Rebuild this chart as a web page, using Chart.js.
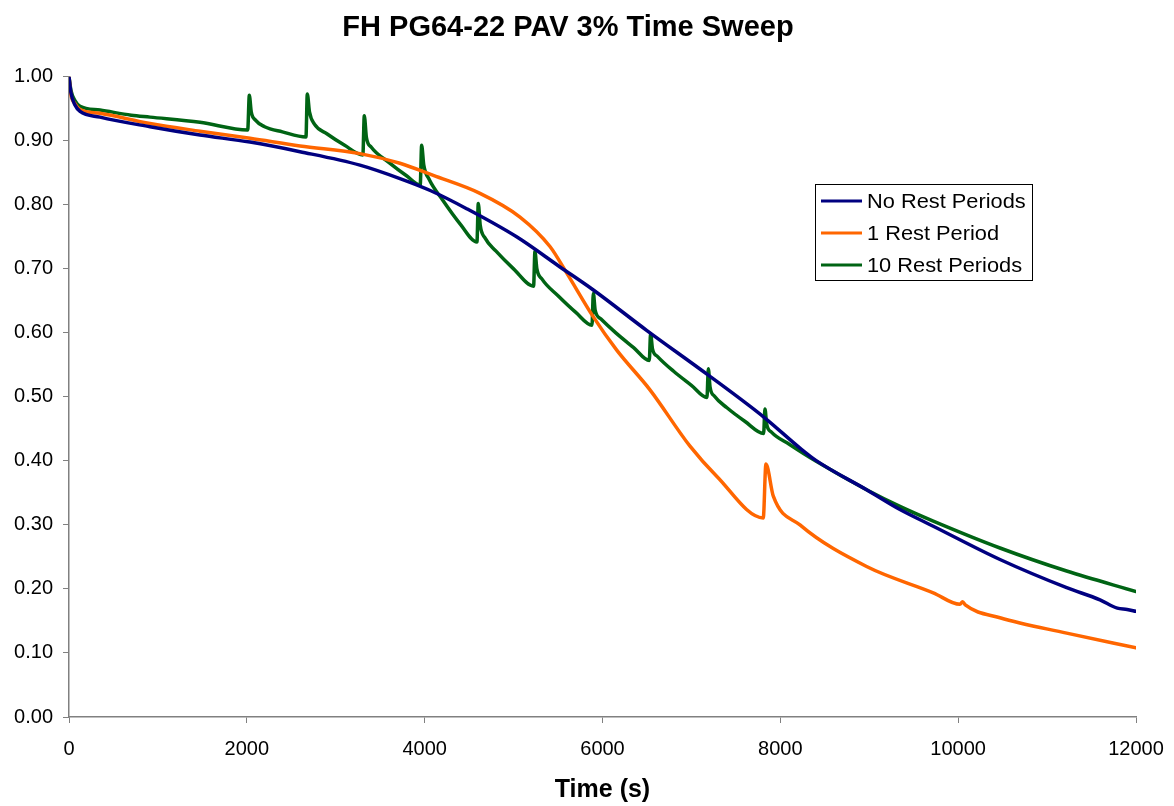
<!DOCTYPE html>
<html>
<head>
<meta charset="utf-8">
<title>FH PG64-22 PAV 3% Time Sweep</title>
<script src="https://cdn.jsdelivr.net/npm/chart.js@4.4.1/dist/chart.umd.min.js"></script>
<style>
  html, body { margin: 0; padding: 0; background: #fff; }
  #wrap { width: 1174px; height: 806px; }
</style>
</head>
<body>
<div id="wrap"><canvas id="sweepChart" width="1174" height="806"></canvas></div>
<script>
// values
const seriesLabels = ['No Rest Periods', '1 Rest Period', '10 Rest Periods'];
const seriesColors = ['#000080', '#FF6600', '#006414'];

const noRestTime = [0, 22, 67, 124, 349, 911, 1473, 2036, 2598, 3272, 3722, 4069, 4472, 5034, 5522, 5897, 6496, 7190, 7827, 8221, 8408, 8970, 9345, 9720, 10470, 11220, 11595, 11790, 11900, 12000];
const noRestValue = [1.0, 0.975, 0.956, 0.946, 0.937, 0.922, 0.909, 0.898, 0.883, 0.862, 0.841, 0.822, 0.794, 0.750, 0.703, 0.667, 0.604, 0.534, 0.467, 0.420, 0.400, 0.355, 0.324, 0.298, 0.246, 0.202, 0.183, 0.170, 0.168, 0.165];

const oneRestTime = [0, 22, 67, 124, 349, 911, 1473, 2036, 2598, 3272, 3722, 4097, 4622, 5072, 5409, 5600, 5897, 6160, 6534, 6984, 7284, 7808, 7838, 7921, 8221, 8970, 9720, 10020, 10050, 10080, 10470, 11220, 12000];
const oneRestValue = [1.0, 0.972, 0.958, 0.949, 0.943, 0.927, 0.915, 0.904, 0.892, 0.880, 0.865, 0.846, 0.818, 0.781, 0.735, 0.693, 0.625, 0.573, 0.511, 0.423, 0.376, 0.311, 0.395, 0.345, 0.300, 0.235, 0.194, 0.176, 0.180, 0.175, 0.155, 0.131, 0.108];

const tenRestTime = [0, 22, 67, 124, 349, 700, 911, 1473, 2010,
  2028, 2050, 2100, 2200, 2400, 2665,
  2680, 2705, 2760, 2900, 3100, 3305,
  3321, 3345, 3400, 3600, 3800, 3950,
  3966, 3990, 4050, 4200, 4400, 4588,
  4603, 4625, 4680, 4800, 5000, 5225,
  5240, 5262, 5320, 5500, 5700, 5882,
  5897, 5918, 5980, 6150, 6350, 6526,
  6541, 6562, 6620, 6800, 7000, 7175,
  7190, 7210, 7260, 7400, 7600, 7812,
  7827, 7847, 7900, 8100, 8408, 8970, 9345, 9720, 10470, 11220, 12000];
const tenRestValue = [1.0, 0.979, 0.963, 0.954, 0.948, 0.940, 0.937, 0.929, 0.917,
  0.971, 0.945, 0.932, 0.922, 0.914, 0.906,
  0.973, 0.945, 0.926, 0.911, 0.893, 0.878,
  0.939, 0.905, 0.890, 0.866, 0.845, 0.831,
  0.893, 0.862, 0.840, 0.808, 0.770, 0.742,
  0.802, 0.768, 0.748, 0.728, 0.700, 0.673,
  0.727, 0.700, 0.684, 0.658, 0.632, 0.612,
  0.662, 0.635, 0.622, 0.600, 0.577, 0.557,
  0.599, 0.575, 0.563, 0.540, 0.518, 0.499,
  0.544, 0.515, 0.501, 0.483, 0.462, 0.443,
  0.481, 0.457, 0.445, 0.426, 0.399, 0.355, 0.329, 0.306, 0.264, 0.228, 0.196];

const xTicks = [0, 2000, 4000, 6000, 8000, 10000, 12000];

function toPoints(xs, ys) {
  return xs.map((x, i) => ({ x: x, y: ys[i] }));
}

const FONT = "'Liberation Sans', Arial, sans-serif";

// legend box drawn inside the plot, like the original
const boxLegend = {
  id: 'boxLegend',
  afterDraw(chart) {
    const ctx = chart.ctx;
    const left = 815, top = 184, width = 217, height = 96;
    ctx.save();
    ctx.fillStyle = '#fff';
    ctx.fillRect(left, top, width, height);
    ctx.strokeStyle = '#000';
    ctx.lineWidth = 1;
    ctx.strokeRect(left + 0.5, top + 0.5, width, height);
    ctx.font = '20px ' + FONT;
    ctx.textBaseline = 'middle';
    chart.data.datasets.forEach((ds, i) => {
      const y = 201 + i * 32;
      ctx.strokeStyle = ds.borderColor;
      ctx.lineWidth = 3;
      ctx.beginPath();
      ctx.moveTo(821, y);
      ctx.lineTo(862, y);
      ctx.stroke();
      ctx.fillStyle = '#000';
      ctx.save();
      ctx.translate(867, y + 1);
      ctx.scale(1.09, 1);
      ctx.fillText(ds.label, 0, 0);
      ctx.restore();
    });
    ctx.restore();
  }
};

const ctx = document.getElementById('sweepChart').getContext('2d');
const chart = new Chart(ctx, {
  type: 'line',
  data: {
    datasets: [
      { label: seriesLabels[0], data: toPoints(noRestTime, noRestValue), borderColor: seriesColors[0] },
      { label: seriesLabels[1], data: toPoints(oneRestTime, oneRestValue), borderColor: seriesColors[1] },
      { label: seriesLabels[2], data: toPoints(tenRestTime, tenRestValue), borderColor: seriesColors[2] }
    ]
  },
  options: {
    responsive: false,
    animation: false,
    layout: { padding: { left: 0, right: 38, top: 0, bottom: 0 } },
    elements: {
      point: { radius: 0 },
      line: { borderWidth: 3.5, cubicInterpolationMode: 'monotone', fill: false, borderCapStyle: 'round', borderJoinStyle: 'round' }
    },
    plugins: {
      legend: { display: false },
      tooltip: { enabled: false },
      title: {
        display: true,
        text: 'FH PG64-22 PAV 3% Time Sweep',
        color: '#000',
        font: { family: FONT, size: 29, weight: 'bold' },
        padding: { top: 11, bottom: 31 }
      }
    },
    scales: {
      x: {
        type: 'linear',
        min: 0,
        max: 12000,
        afterBuildTicks(scale) { scale.ticks = xTicks.map(v => ({ value: v })); },
        afterFit(scale) {
          scale.height = 89;
          scale.paddingLeft = 0;
          scale.paddingRight = 0;
        },
        grid: { display: true, drawOnChartArea: false, tickLength: 6, color: '#808080' },
        border: { color: '#808080', width: 1.5 },
        ticks: { color: '#000', font: { family: FONT, size: 20 }, padding: 14, maxRotation: 0, callback: v => String(v) },
        title: {
          display: true,
          text: 'Time (s)',
          color: '#000',
          font: { family: FONT, size: 25, weight: 'bold' },
          padding: { top: 0, bottom: 1 }
        }
      },
      y: {
        min: 0,
        max: 1,
        afterFit(scale) { scale.width = 69; },
        grid: { display: true, drawOnChartArea: false, tickLength: 6, color: '#808080' },
        border: { color: '#808080', width: 1.5 },
        ticks: {
          stepSize: 0.1,
          color: '#000',
          font: { family: FONT, size: 20 },
          padding: 10,
          callback: v => v.toFixed(2)
        }
      }
    }
  },
  plugins: [boxLegend]
});
</script>
</body>
</html>
